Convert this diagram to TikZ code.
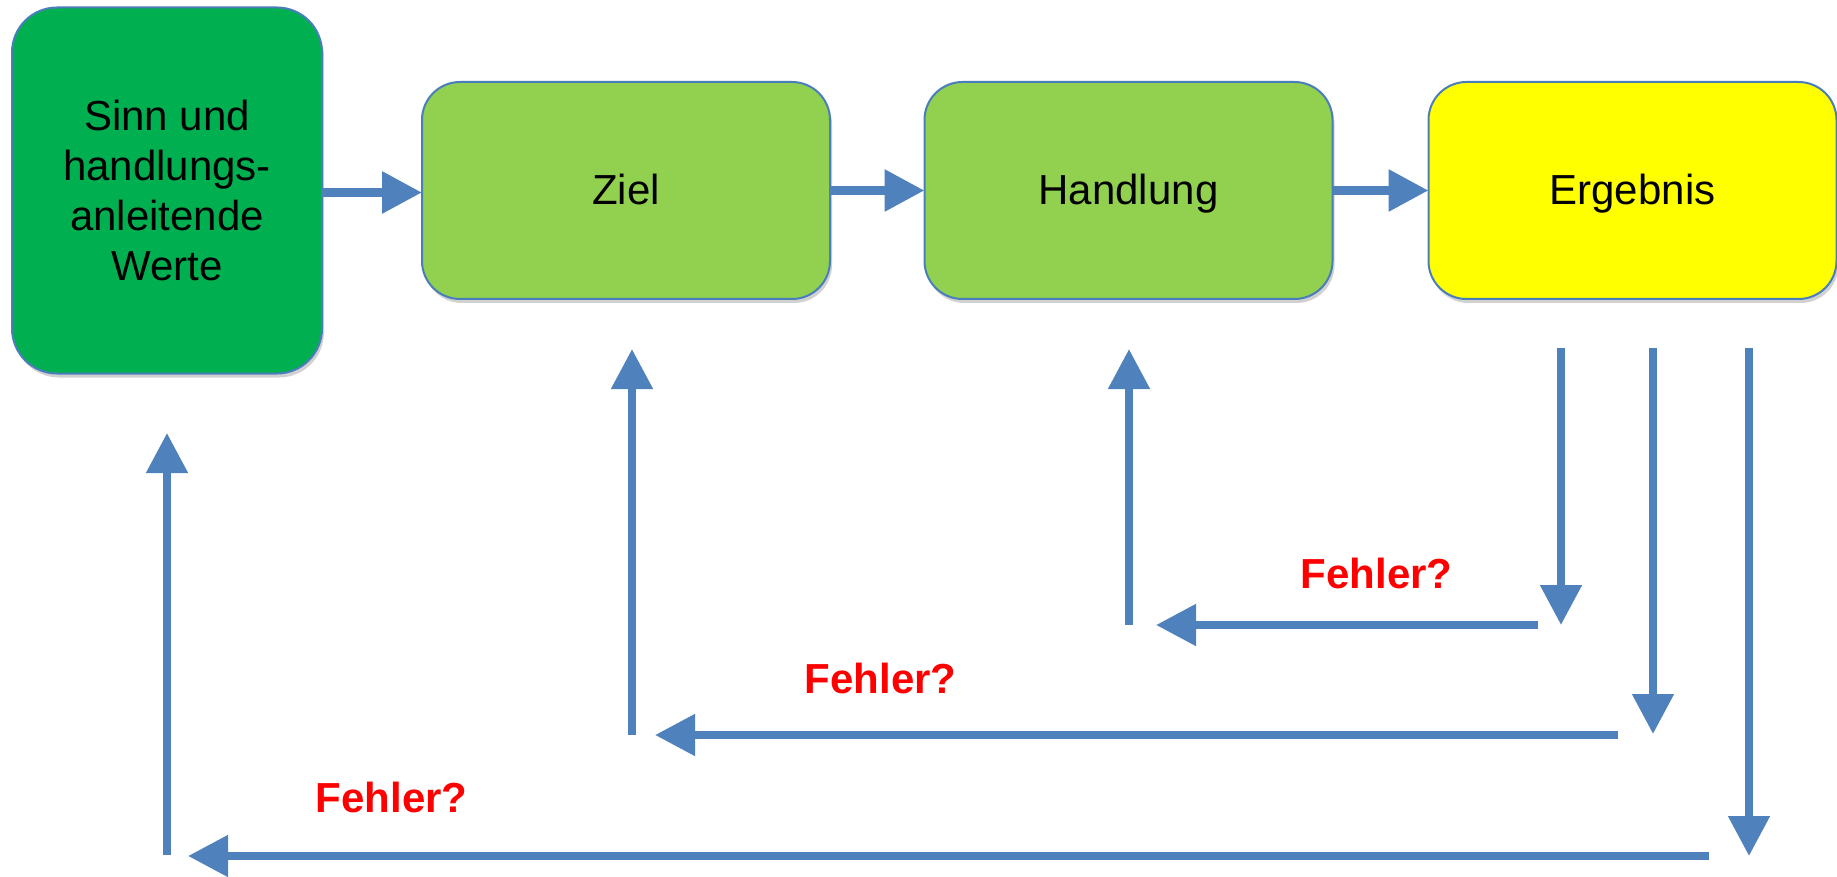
\documentclass[tikz,border=0pt]{standalone}
\usepackage{fontspec}
\setmainfont{Liberation Sans}
\usetikzlibrary{arrows.meta,shadows}
\definecolor{arrowblue}{HTML}{4F81BD}
\definecolor{darkgreen}{HTML}{00B050}
\definecolor{lightgreen}{HTML}{92D050}
\definecolor{resultyellow}{HTML}{FFFF00}
\definecolor{boxborder}{HTML}{4A7EBB}
\definecolor{errred}{HTML}{FF0000}
\begin{document}
\begin{tikzpicture}[x=1pt,y=-1pt,
  box/.style={draw=boxborder, line width=2pt, rounded corners=38pt,
    inner sep=0pt, outer sep=0pt, minimum height=217pt, minimum width=408pt,
    font=\fontsize{42}{50}\selectfont, align=center,
    drop shadow={shadow xshift=2pt, shadow yshift=-4pt, opacity=0.18, fill=black}},
  oneline/.style={text height=28pt, text depth=0pt},
  flow/.style={draw=arrowblue, line width=9pt, -{Triangle[length=40pt,width=40pt]}},
  fb/.style={draw=arrowblue, line width=8pt, -{Triangle[length=40pt,width=40pt]}},
  err/.style={text=errred, font=\fontsize{42}{50}\selectfont\bfseries, inner sep=0pt, anchor=base}]
\useasboundingbox (0,0) rectangle (1837,877);
\fill[white] (0,0) rectangle (1837,877);

% boxes
\node[box, fill=darkgreen, minimum width=310pt, minimum height=366pt, rounded corners=45pt]
  (sinn) at (167,190.5) {Sinn und\\handlungs-\\anleitende\\Werte};
\node[box, oneline, fill=lightgreen] (ziel) at (626,190.5) {Ziel};
\node[box, oneline, fill=lightgreen] (handlung) at (1128.5,190.5) {Handlung};
\node[box, oneline, fill=resultyellow] (ergebnis) at (1632.5,190.5) {Ergebnis};

% forward connectors
\draw[flow] ([yshift=-2pt]sinn.east) -- ([yshift=-2pt]ziel.west);
\draw[flow] (ziel.east) -- (handlung.west);
\draw[flow] (handlung.east) -- (ergebnis.west);

% feedback coordinates
\coordinate (d1s) at (1561,348);
\coordinate (d1e) at (1561,625);
\coordinate (d2s) at (1653,348);
\coordinate (d2e) at (1653,734);
\coordinate (d3s) at (1749,348);
\coordinate (d3e) at (1749,856);
\coordinate (hAs) at (1538,625);
\coordinate (hAe) at (1156,625);
\coordinate (hBs) at (1618,735);
\coordinate (hBe) at (655,735);
\coordinate (hCs) at (1709,856);
\coordinate (hCe) at (188,856);
\coordinate (uAs) at (1129,625);
\coordinate (uAe) at (1129,349);
\coordinate (uBs) at (632,735);
\coordinate (uBe) at (632,349);
\coordinate (uCs) at (167,855);
\coordinate (uCe) at (167,433);

% feedback arrows
\draw[fb] (d1s) -- (d1e);
\draw[fb] (d2s) -- (d2e);
\draw[fb] (d3s) -- (d3e);
\draw[fb] (hAs) -- (hAe);
\draw[fb] (hBs) -- (hBe);
\draw[fb] (hCs) -- (hCe);
\draw[fb] (uAs) -- (uAe);
\draw[fb] (uBs) -- (uBe);
\draw[fb] (uCs) -- (uCe);

% labels
\node[err] (fA) at (1376.5,588) {Fehler?};
\node[err] (fB) at (880.5,693) {Fehler?};
\node[err] (fC) at (391.5,812) {Fehler?};
\end{tikzpicture}
\end{document}
